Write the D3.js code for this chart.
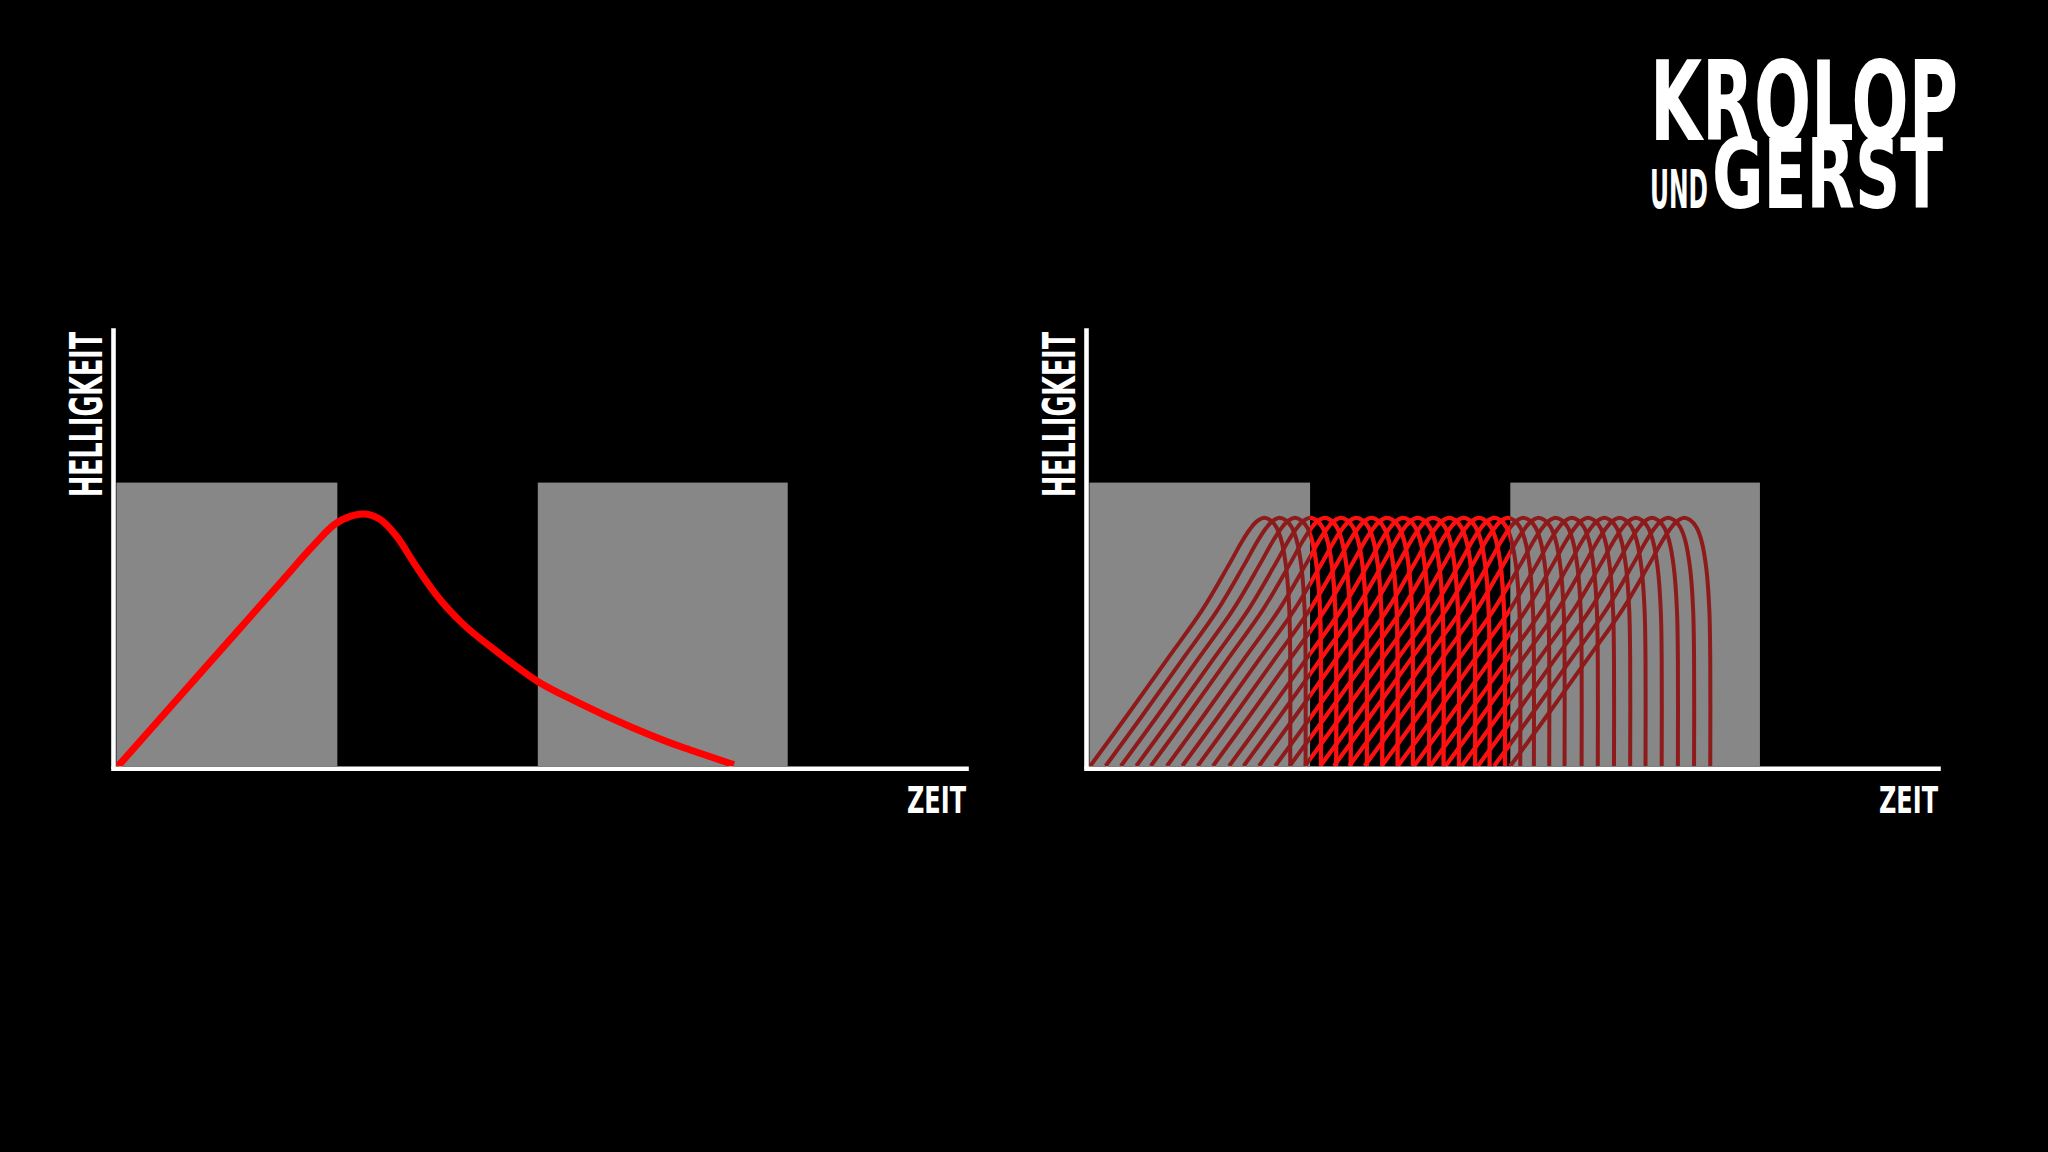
<!DOCTYPE html>
<html>
<head>
<meta charset="utf-8">
<script src="https://cdn.jsdelivr.net/npm/d3@7"></script>
<style>
  html, body { margin: 0; padding: 0; background: #000; }
  svg { display: block; }
  .lbl { font-family: "DejaVu Sans", sans-serif; font-weight: bold; fill: #fff; }
</style>
</head>
<body>
<svg id="chart" width="2048" height="1152"></svg>
<script>
// Belichtungsfenster (Zeit-Einheiten 0..1000), Helligkeit 0..100
const pulses = [[4, 263], [498, 791]];
const pulseLevel = 65;

// links: normaler Blitz
const flashTime  = [6, 68, 139.5, 197, 235.6, 259, 279, 293, 312, 332, 355, 380, 408, 451, 497, 546, 608, 666, 690, 728];
const flashValue = [0, 13.7, 29.5, 42.2, 50.7, 55.3, 57.3, 57.8, 56.7, 52.8, 45.9, 39.0, 33.0, 26.1, 19.5, 14.5, 8.9, 4.4, 2.8, 0.3];

// rechts: Pulsform (relativ zum Pulsbeginn) + Startzeiten der einzelnen Pulse
const hssTime  = [0, 41.1, 91.5, 131.5, 162, 178.4, 187.8, 194.8, 203, 211.3, 218.3, 224.2, 230, 233.6, 234.7, 234.7];
const hssValue = [0, 11.0, 24.8, 35.8, 45.9, 51.6, 54.4, 56.0, 56.9, 56.4, 54.8, 51.8, 45.4, 35.8, 24.3, 0];
const hssStarts = [5, 23, 41, 59, 76, 95, 113, 131, 149, 168, 185, 203, 222, 239,
                   257, 275, 291, 309, 327, 347, 366, 385, 404, 422, 441, 460, 479, 498];

const yLabel = "HELLIGKEIT";
const xLabel = "ZEIT";

const svg = d3.select("#chart");

const panels = [
  { id: "normal", left: 113, right: 966 },
  { id: "hss", left: 1086, right: 1938 }
];

const y = d3.scaleLinear().domain([0, 100]).range([766, 330]);

panels.forEach(p => {
  const x = d3.scaleLinear().domain([0, 1000]).range([p.left, p.right]);
  const g = svg.append("g").attr("class", "panel-" + p.id);

  // graue Verschlussfenster
  g.selectAll("rect.pulse")
    .data(pulses)
    .enter().append("rect")
    .attr("class", "pulse")
    .attr("x", d => x(d[0]))
    .attr("y", y(pulseLevel))
    .attr("width", d => x(d[1]) - x(d[0]))
    .attr("height", y(0) - y(pulseLevel))
    .attr("fill", "#878787");

  if (p.id === "normal") {
    const line = d3.line()
      .x(d => x(d[0]))
      .y(d => y(d[1]))
      .curve(d3.curveMonotoneX);
    const pts = flashTime.map((t, i) => [t, flashValue[i]]);
    g.append("path")
      .attr("d", line(pts))
      .attr("fill", "none")
      .attr("stroke", "#ff0000")
      .attr("stroke-width", 7)
      .attr("stroke-linejoin", "round");
  } else {
    const line = d3.line()
      .x(d => x(d[0]))
      .y(d => y(d[1]))
      .curve(d3.curveCatmullRom.alpha(0.5));
    const curves = hssStarts.map(s => hssTime.map((t, i) => [s + t, hssValue[i]]));

    svg.append("clipPath").attr("id", "gap-clip")
      .append("rect")
      .attr("x", x(pulses[0][1]))
      .attr("y", y(100))
      .attr("width", x(pulses[1][0]) - x(pulses[0][1]))
      .attr("height", y(0) - y(100));

    g.append("g").selectAll("path")
      .data(curves)
      .enter().append("path")
      .attr("d", line)
      .attr("fill", "none")
      .attr("stroke", "#8e1b1b")
      .attr("stroke-width", 4);

    // im Zwischenraum leuchtend rot
    g.append("g").attr("clip-path", "url(#gap-clip)")
      .selectAll("path")
      .data(curves)
      .enter().append("path")
      .attr("d", line)
      .attr("fill", "none")
      .attr("stroke", "#ff1010")
      .attr("stroke-width", 4);
  }

  // Achsen
  const xAxis = g.append("g")
    .attr("transform", `translate(0,${y(0) + 2.3})`)
    .call(d3.axisBottom(x).tickValues([]).tickSizeOuter(0));
  const yAxis = g.append("g")
    .attr("transform", `translate(${x(0)},0)`)
    .call(d3.axisLeft(y).tickValues([]).tickSizeOuter(0));
  [xAxis, yAxis].forEach(a => a.select(".domain")
    .attr("stroke", "#fff")
    .attr("stroke-width", 4.6)
    .attr("stroke-linecap", "square"));

  g.append("text")
    .attr("class", "lbl")
    .attr("transform", `translate(${p.left - 11},497) rotate(-90)`)
    .attr("font-size", 44)
    .attr("textLength", 165)
    .attr("lengthAdjust", "spacingAndGlyphs")
    .text(yLabel);

  g.append("text")
    .attr("class", "lbl")
    .attr("x", p.right)
    .attr("y", 813)
    .attr("text-anchor", "end")
    .attr("font-size", 38)
    .attr("textLength", 59)
    .attr("lengthAdjust", "spacingAndGlyphs")
    .text(xLabel);
});

// Logo
const logo = svg.append("g").attr("class", "logo");
logo.append("text").attr("class", "lbl")
  .attr("x", 1650).attr("y", 140)
  .attr("font-size", 110)
  .attr("textLength", 308).attr("lengthAdjust", "spacingAndGlyphs")
  .text("KROLOP");
logo.append("text").attr("class", "lbl")
  .attr("x", 1650).attr("y", 208)
  .attr("font-size", 54)
  .attr("textLength", 58).attr("lengthAdjust", "spacingAndGlyphs")
  .text("UND");
logo.append("text").attr("class", "lbl")
  .attr("x", 1712).attr("y", 208)
  .attr("font-size", 97)
  .attr("textLength", 231).attr("lengthAdjust", "spacingAndGlyphs")
  .text("GERST");
</script>
</body>
</html>
